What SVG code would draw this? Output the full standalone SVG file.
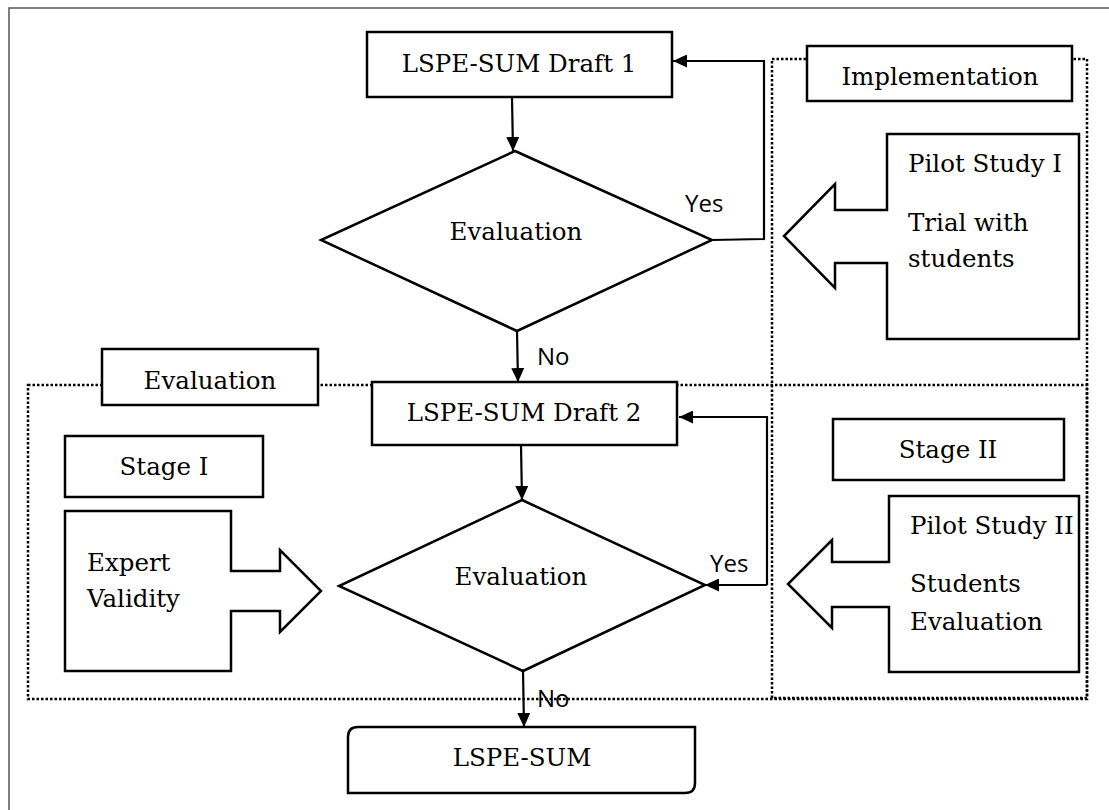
<svg xmlns="http://www.w3.org/2000/svg" width="1109" height="810" viewBox="0 0 1109 810">
<defs>
<style>
.shape{fill:#fff;stroke:#000;stroke-width:2.5}
.dot{fill:none;stroke:#000;stroke-width:2.5;stroke-dasharray:2.5 2}
.conn{fill:none;stroke:#000;stroke-width:2.2}
.t{font-family:"DejaVu Serif","Liberation Serif",serif;font-size:24.5px;fill:#000}
.c{text-anchor:middle}
.s{font-family:"Open Sans","Liberation Sans",sans-serif;font-size:24px;fill:#000}
</style>
<marker id="ah" markerUnits="userSpaceOnUse" markerWidth="14" markerHeight="13" refX="14" refY="6.5" orient="auto">
<path d="M0,0 L14,6.5 L0,13 z" fill="#000"/>
</marker>
</defs>
<rect width="1109" height="810" fill="#fff"/>
<path d="M9 830 L9 8 L1130 8" fill="none" stroke="#555" stroke-width="1.5"/>

<g id="regions">
<rect class="dot" x="772" y="59" width="315" height="639"/>
<rect class="dot" x="28" y="385" width="1059" height="314"/>
</g>

<g id="connectors">
<path class="conn" d="M512 98 L513 151" marker-end="url(#ah)"/>
<path class="conn" d="M712 240 L764 239 L764 61 L673 61" marker-end="url(#ah)"/>
<path class="conn" d="M517 331 L518 382" marker-end="url(#ah)"/>
<path class="conn" d="M521 445 L522 500" marker-end="url(#ah)"/>
<path class="conn" d="M767 585 L767 417 L679 417" marker-end="url(#ah)"/>
<path class="conn" d="M767 585 L705 585" marker-end="url(#ah)"/>
<path class="conn" d="M523 671 L524 727" marker-end="url(#ah)"/>
<text class="s" x="685" y="212">Yes</text>
<text class="s" x="537" y="365">No</text>
<text class="s" x="710" y="572">Yes</text>
<text class="s" x="537" y="707">No</text>
</g>

<g id="draft1">
<rect class="shape" x="367" y="32" width="305" height="65"/>
<text class="t c" x="519" y="72">LSPE-SUM Draft 1</text>
</g>

<g id="eval1">
<polygon class="shape" points="515,151 712,240 517,331 321,240"/>
<text class="t c" x="516" y="240">Evaluation</text>
</g>

<g id="implementation-label">
<rect class="shape" x="807" y="46" width="265" height="55"/>
<text class="t c" x="940" y="85">Implementation</text>
</g>

<g id="pilot1">
<path class="shape" d="M887 134 L1079 134 L1079 339 L887 339 L887 263 L835 263 L835 288 L784 236 L835 184 L835 210 L887 210 Z"/>
<text class="t" x="908" y="172">Pilot Study I</text>
<text class="t" x="908" y="231">Trial with</text>
<text class="t" x="908" y="267">students</text>
</g>

<g id="evaluation-label">
<rect class="shape" x="102" y="349" width="216" height="56"/>
<text class="t c" x="210" y="389">Evaluation</text>
</g>

<g id="draft2">
<rect class="shape" x="372" y="382" width="305" height="63"/>
<text class="t c" x="524" y="421">LSPE-SUM Draft 2</text>
</g>

<g id="stage1">
<rect class="shape" x="65" y="436" width="198" height="61"/>
<text class="t c" x="164" y="475">Stage I</text>
</g>

<g id="expert">
<path class="shape" d="M65 511 L231 511 L231 571 L280 571 L280 550 L321 591 L280 632 L280 611 L231 611 L231 671 L65 671 Z"/>
<text class="t" x="87" y="571">Expert</text>
<text class="t" x="87" y="607">Validity</text>
</g>

<g id="eval2">
<polygon class="shape" points="522,500 705,585 523,671 339,586"/>
<text class="t c" x="521" y="585">Evaluation</text>
</g>

<g id="stage2">
<rect class="shape" x="833" y="419" width="231" height="61"/>
<text class="t c" x="948" y="458">Stage II</text>
</g>

<g id="pilot2">
<path class="shape" d="M889 496 L1079 496 L1079 672 L889 672 L889 607 L832 607 L832 628 L788 584 L832 540 L832 562 L889 562 Z"/>
<text class="t" x="910" y="534">Pilot Study II</text>
<text class="t" x="910" y="592">Students</text>
<text class="t" x="910" y="630">Evaluation</text>
</g>

<g id="lspe-sum">
<path class="shape" d="M358 727 L695 727 L695 783 Q695 793 685 793 L348 793 L348 737 Q348 727 358 727 Z"/>
<text class="t c" x="522" y="766">LSPE-SUM</text>
</g>
</svg>
